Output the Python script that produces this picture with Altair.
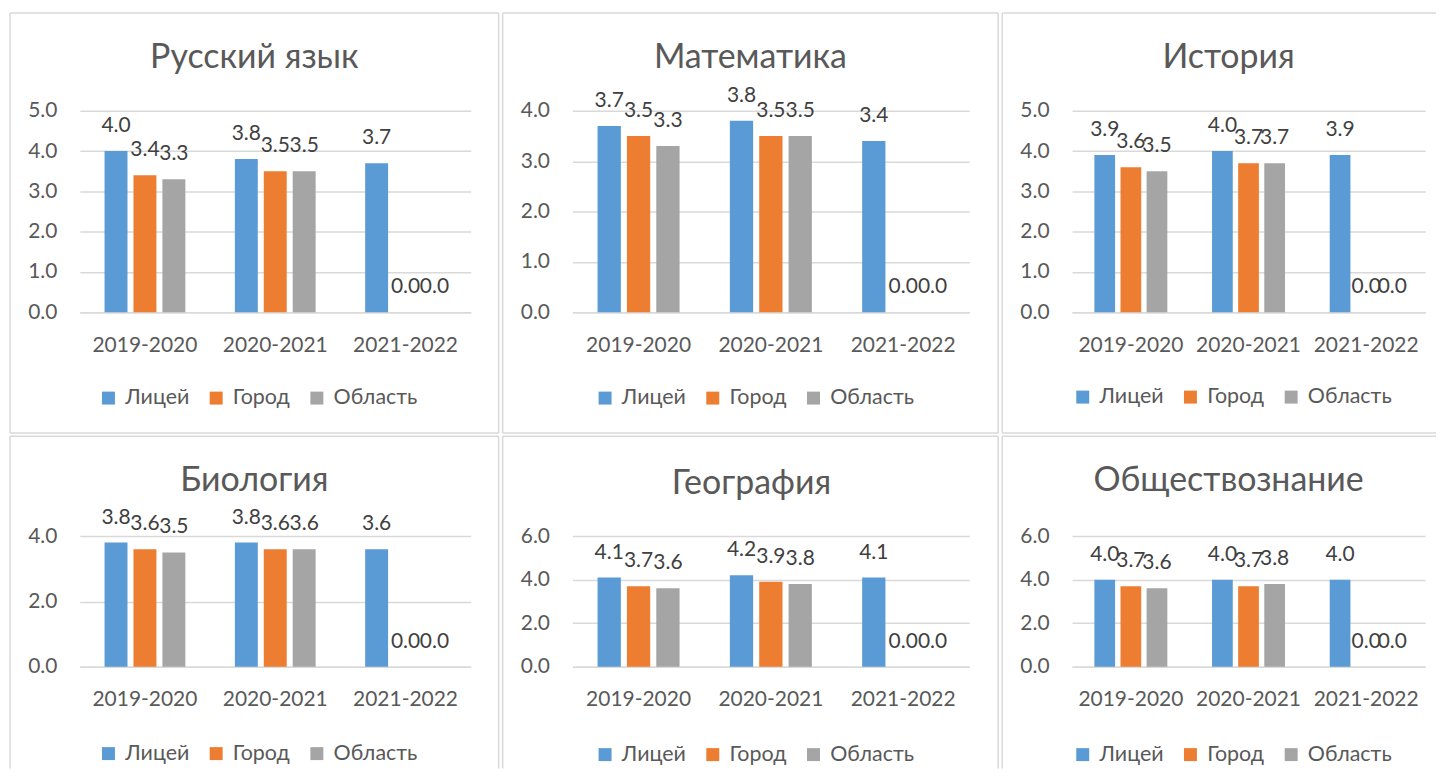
import altair as alt
import pandas as pd

# ---------------- data ----------------
subjects = ["Русский язык", "Математика", "История", "Биология", "География", "Обществознание"]
years = ["2019-2020", "2020-2021", "2021-2022"]
series = ["Лицей", "Город", "Область"]

litsey = [[4.0, 3.8, 3.7], [3.7, 3.8, 3.4], [3.9, 4.0, 3.9],
          [3.8, 3.8, 3.6], [4.1, 4.2, 4.1], [4.0, 4.0, 4.0]]
gorod = [[3.4, 3.5, 0.0], [3.5, 3.5, 0.0], [3.6, 3.7, 0.0],
         [3.6, 3.6, 0.0], [3.7, 3.9, 0.0], [3.7, 3.7, 0.0]]
oblast = [[3.3, 3.5, 0.0], [3.3, 3.5, 0.0], [3.5, 3.7, 0.0],
          [3.5, 3.6, 0.0], [3.6, 3.8, 0.0], [3.6, 3.8, 0.0]]
y_max = [5, 4, 5, 4, 6, 6]
y_step = [1, 1, 1, 2, 2, 2]

# ---------------- style ----------------
colors = ["#5B9BD5", "#ED7D31", "#A5A5A5"]
FONT = "Lato"
GRID = "#D9D9D9"
AXIS_TXT = "#595959"
LABEL_TXT = "#404040"
TXT_SIZE = 21
TITLE_SIZE = 34

# layout of each panel: plot width/height, frame extents (relative to plot), title pos, legend pos
layout = [
    dict(W=392, H=202, L=-70, R=420, T=-98, B=323, right=True, bottom=True, tx=175, ty=-53, lx=18, ly=277),
    dict(W=398, H=202, L=-70, R=427, T=-98, B=323, right=True, bottom=True, tx=178.5, ty=-53, lx=22, ly=277),
    dict(W=354, H=202, L=-70, R=365, T=-98, B=323, right=False, bottom=True, tx=157, ty=-53, lx=0, ly=276),
    dict(W=392, H=131, L=-70, R=420, T=-100, B=233, right=True, bottom=False, tx=175, ty=-55, lx=18, ly=207),
    dict(W=398, H=131, L=-70, R=427, T=-100, B=233, right=True, bottom=False, tx=179.5, ty=-52, lx=22, ly=208),
    dict(W=354, H=131, L=-70, R=365, T=-100, B=233, right=False, bottom=False, tx=157, ty=-55, lx=0, ly=208),
]

one = pd.DataFrame({"k": [0]})


def rule(x1, x2, y1, y2):
    return alt.Chart(one).mark_rule(color=GRID, strokeWidth=1.5).encode(
        x=alt.value(x1), x2=alt.value(x2), y=alt.value(y1), y2=alt.value(y2))


def panel(i):
    g = layout[i]
    rows = []
    for j, yr in enumerate(years):
        for s, vals in zip(series, (litsey, gorod, oblast)):
            rows.append({"year": yr, "series": s, "value": vals[i][j]})
    df = pd.DataFrame(rows)
    ticks = list(range(0, y_max[i] + 1, y_step[i]))

    x = alt.X("year:N", sort=years,
              scale=alt.Scale(domain=years, paddingInner=0.38, paddingOuter=0.19),
              axis=alt.Axis(title=None, labelAngle=0, ticks=False, domainColor=GRID,
                            domainWidth=1.5, labelPadding=33, labelBaseline="middle",
                            grid=False))
    xo = alt.XOffset("series:N", sort=series,
                     scale=alt.Scale(domain=series, paddingInner=0.207, paddingOuter=0))
    y = alt.Y("value:Q", scale=alt.Scale(domain=[0, y_max[i]], nice=False),
              axis=alt.Axis(title=None, values=ticks, format=".1f", ticks=False,
                            domain=False, gridColor=GRID, gridWidth=1.5, labelPadding=23))

    base = alt.Chart(df).encode(x=x, xOffset=xo, y=y)
    bars = base.mark_bar().encode(
        color=alt.Color("series:N", sort=series,
                        scale=alt.Scale(domain=series, range=colors),
                        legend=alt.Legend(orient="none", legendX=g["lx"], legendY=g["ly"],
                                          direction="horizontal", title=None,
                                          symbolType="square", symbolSize=169,
                                          symbolStrokeWidth=0, labelFont=FONT,
                                          labelFontSize=21.5, labelColor=AXIS_TXT,
                                          labelOffset=6, columnPadding=16, padding=0)))
    labels = base.mark_text(dy=-25, baseline="middle", font=FONT, fontSize=TXT_SIZE,
                            color=LABEL_TXT).encode(text=alt.Text("value:Q", format=".1f"))

    title = alt.Chart(pd.DataFrame({"t": [subjects[i]]})).mark_text(
        font=FONT, fontSize=TITLE_SIZE, color=AXIS_TXT, align="center", baseline="middle"
    ).encode(x=alt.value(g["tx"]), y=alt.value(g["ty"]), text="t:N")

    frames = [rule(g["L"], g["L"], g["T"], g["B"]), rule(g["L"], g["R"], g["T"], g["T"])]
    if g["right"]:
        frames.append(rule(g["R"], g["R"], g["T"], g["B"]))
    if g["bottom"]:
        frames.append(rule(g["L"], g["R"], g["B"], g["B"]))

    return alt.layer(*frames, title, bars, labels).properties(width=g["W"], height=g["H"])


def indep(c):
    return c.resolve_scale(x="independent", y="independent", color="independent",
                           xOffset="independent").resolve_legend(color="independent")


row1 = indep(alt.hconcat(panel(0), panel(1), panel(2), spacing=2))
row2 = indep(alt.hconcat(panel(3), panel(4), panel(5), spacing=2))
chart = indep(alt.vconcat(row1, row2, spacing=1.5)).properties(
    padding={"left": 1, "top": 3, "right": 0, "bottom": 0},
    background="white",
).configure_view(strokeWidth=0).configure_axis(
    labelFont=FONT, labelFontSize=TXT_SIZE, labelColor=AXIS_TXT
)

chart.save("out.html", embed_options={"renderer": "svg", "actions": False})
